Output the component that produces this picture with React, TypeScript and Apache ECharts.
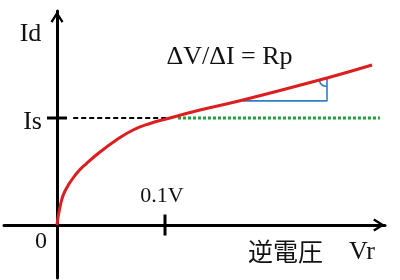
import React, { useEffect, useRef } from "react";
import * as echarts from "echarts";

// Diode reverse characteristic (x: reverse voltage in V, y: current in units of Is)
const curveV = [0, 0.0028, 0.0074, 0.0185, 0.0278, 0.0398, 0.0537, 0.0704, 0.0861, 0.1046, 0.1324, 0.1722, 0.25, 0.2917];
const curveI = [0, 0.168, 0.318, 0.486, 0.579, 0.682, 0.785, 0.888, 0.949, 1.0, 1.075, 1.168, 1.374, 1.495];

const IS_LEVEL = 1;
const TICK_V = 0.1;
const dashedV = [0.015, 0.105];
const dottedV = [0.112, 0.299];

const triV = [0.172, 0.25, 0.25];
const triI = [1.16, 1.16, 1.37];

const xRange = [-0.04907, 0.3037];
const yRange = [-0.4953, 2.0];

const yTickLabel = "Is";
const xTickLabel = "0.1V";
const originLabel = "0";
const yName = "Id";
const xNameJa = "逆電圧";
const xName = "Vr";
const formula = "ΔV/ΔI = Rp";

const SERIF = "'Liberation Serif', 'Times New Roman', serif";
const CJK = "'Noto Sans CJK JP', sans-serif";
const ARROW = "path://M6,0 L12,9.6 L10.2,10.8 L6,4 L1.8,10.8 L0,9.6 Z";

export default function App() {
  const ref = useRef<HTMLDivElement>(null);
  useEffect(() => {
    document.body.style.margin = "0";
    const chart = echarts.init(ref.current!, null, { renderer: "svg" });
    const axisLineStyle = { color: "#000", width: 3 };
    const axisLine = {
      onZero: true,
      lineStyle: axisLineStyle,
      symbol: ["none", ARROW],
      symbolSize: [13, 12],
      symbolOffset: [0, -6],
    };
    chart.setOption({
      animation: false,
      grid: { left: 4, right: 15, top: 11, bottom: 2, containLabel: false, outerBoundsMode: "none" },
      xAxis: {
        type: "value",
        min: xRange[0],
        max: xRange[1],
        splitLine: { show: false },
        axisTick: { show: false },
        axisLabel: { show: false },
        axisLine,
      },
      yAxis: {
        type: "value",
        min: yRange[0],
        max: yRange[1],
        splitLine: { show: false },
        axisTick: { show: false },
        axisLabel: { show: false },
        axisLine,
      },
      series: [
        {
          type: "line",
          data: dashedV.map((v) => [v, IS_LEVEL]),
          symbol: "none",
          lineStyle: { color: "#000", width: 2, type: [5, 3] },
          z: 2,
        },
        {
          type: "line",
          data: dottedV.map((v) => [v, IS_LEVEL]),
          symbol: "none",
          lineStyle: { color: "#1f9e3a", width: 3, type: [3, 2] },
          z: 2,
        },
        {
          type: "line",
          data: triV.map((v, i) => [v, triI[i]]),
          symbol: "none",
          lineStyle: { color: "#2f7fc8", width: 1.6 },
          z: 3,
        },
        {
          type: "custom",
          data: [[triV[2], triI[2]]],
          encode: { x: 0, y: 1 },
          z: 3,
          renderItem: (params: any, api: any) => {
            const p = api.coord([api.value(0), api.value(1)]);
            return {
              type: "arc",
              shape: { cx: p[0], cy: p[1], r: 8, startAngle: Math.PI / 2, endAngle: 2.88, clockwise: true },
              style: { stroke: "#2f7fc8", fill: "none", lineWidth: 1.6 },
            };
          },
        },
        {
          type: "line",
          data: curveV.map((v, i) => [v, curveI[i]]),
          symbol: "none",
          smooth: 0.5,
          lineStyle: { color: "#dc1e1e", width: 3 },
          z: 5,
        },
        {
          type: "custom",
          data: [
            [0, IS_LEVEL, 0],
            [TICK_V, 0, 1],
          ],
          encode: { x: 0, y: 1 },
          z: 6,
          renderItem: (params: any, api: any) => {
            const p = api.coord([api.value(0), api.value(1)]);
            const vert = api.value(2) === 1;
            const shape = vert
              ? { x1: p[0], y1: p[1] - 10.5, x2: p[0], y2: p[1] + 10.5 }
              : { x1: p[0] - 10, y1: p[1], x2: p[0] + 10, y2: p[1] };
            const text = vert
              ? { type: "text", x: p[0] - 3, y: p[1] - 30.5, style: { text: xTickLabel, fontSize: 22, fontFamily: SERIF, fill: "#111", align: "center", verticalAlign: "middle" } }
              : { type: "text", x: p[0] - 15, y: p[1] + 2, style: { text: yTickLabel, fontSize: 26, fontFamily: SERIF, fill: "#111", align: "right", verticalAlign: "middle" } };
            return {
              type: "group",
              children: [{ type: "line", shape, style: { stroke: "#000", lineWidth: 3 } }, text],
            };
          },
        },
      ],
      graphic: [
        { type: "text", x: 30.5, y: 32, style: { text: yName, fontSize: 26, fontFamily: SERIF, fill: "#111", align: "center", verticalAlign: "middle" } },
        { type: "text", x: 41, y: 240, style: { text: originLabel, fontSize: 24, fontFamily: SERIF, fill: "#111", align: "center", verticalAlign: "middle" } },
        { type: "text", x: 285.5, y: 250, style: { text: xNameJa, fontSize: 25, fontFamily: CJK, fill: "#111", align: "center", verticalAlign: "middle" } },
        { type: "text", x: 362, y: 250.5, style: { text: xName, fontSize: 26, fontFamily: SERIF, fill: "#111", align: "center", verticalAlign: "middle" } },
        { type: "text", x: 229.5, y: 55, style: { text: formula, fontSize: 26, fontFamily: SERIF, fill: "#111", align: "center", verticalAlign: "middle" } },
      ],
    });
    return () => chart.dispose();
  }, []);
  return <div ref={ref} style={{ position: "fixed", left: 0, top: 0, width: 400, height: 280 }} />;
}
